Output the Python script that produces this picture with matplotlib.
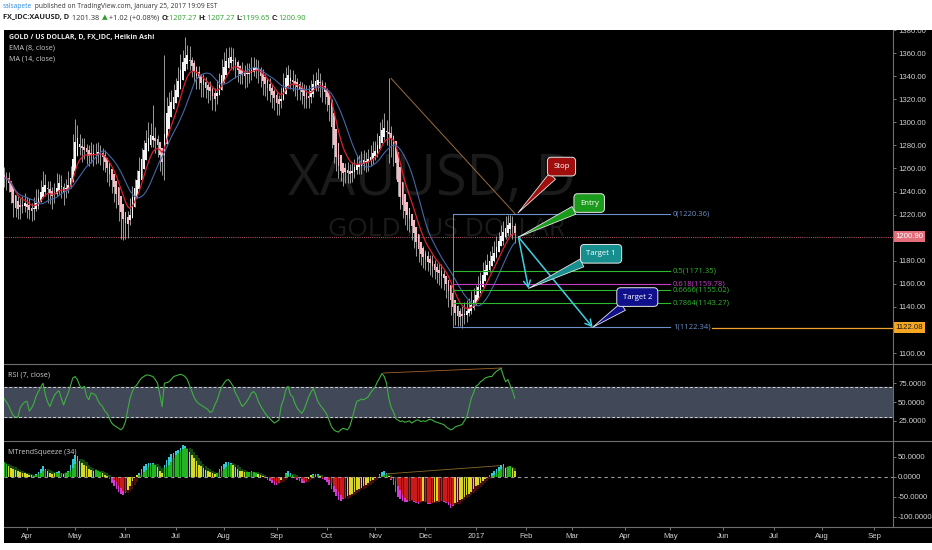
import numpy as np
import pandas as pd
import matplotlib
matplotlib.use('Agg')
import matplotlib.pyplot as plt
from matplotlib.patches import Rectangle
from matplotlib.lines import Line2D
from matplotlib.transforms import blended_transform_factory
from matplotlib import font_manager

W, H = 932, 550

# ---- data (daily Heikin Ashi, 18 Mar 2016 .. 25 Jan 2017) ----
start_day = '2016-03-18'
ha_open0 = 1254
ha_close = [
    1252, 1250, 1247, 1240, 1230, 1226, 1225, 1227, 1228, 1230,
    1227, 1224, 1223, 1226, 1230, 1234, 1240, 1244, 1246, 1242, 1238, 1236, 1238, 1243, 1247, 1244, 1240, 1242, 1246, 1252, 1268,
    1283, 1286, 1281, 1278, 1276, 1274, 1271, 1272, 1273, 1272, 1274, 1273, 1270, 1266, 1260, 1255, 1250, 1244, 1238, 1228, 1222, 1216,
    1213, 1212, 1220, 1235, 1243, 1250, 1258, 1268, 1276, 1282, 1286, 1289, 1288, 1284, 1280, 1272, 1266, 1290, 1308, 1314, 1318, 1322,
    1328, 1336, 1345, 1352, 1356, 1358, 1354, 1349, 1344, 1340, 1338, 1334, 1332, 1330, 1328, 1327, 1323, 1320, 1325, 1332, 1341,
    1348, 1353, 1356, 1357, 1354, 1350, 1345, 1342, 1341, 1340, 1342, 1343, 1345, 1347, 1348, 1345, 1340, 1336, 1333, 1330, 1327, 1324, 1321,
    1317, 1316, 1320, 1330, 1338, 1341, 1338, 1335, 1333, 1331, 1328, 1326, 1323, 1320, 1321, 1327, 1333, 1336, 1337, 1334, 1329, 1326,
    1322, 1315, 1296, 1280, 1270, 1262, 1258, 1256, 1257, 1256, 1255, 1258, 1261, 1263, 1264, 1265, 1267, 1266, 1268, 1270, 1273,
    1275, 1280, 1288, 1293, 1295, 1292, 1290, 1286, 1280, 1265, 1248, 1235, 1228, 1223, 1220, 1216, 1210, 1204, 1196, 1190, 1186, 1183,
    1181, 1179, 1178, 1175, 1172, 1170, 1169, 1167, 1165, 1160, 1154, 1146, 1140, 1135, 1132, 1131, 1132, 1133, 1136, 1139, 1142, 1146,
    1150, 1157, 1162, 1168, 1172, 1176, 1180, 1184, 1187, 1192, 1197, 1201, 1205, 1208, 1211, 1213, 1209, 1204,
]
# wick length above / below the HA close
up = [
    9, 7, 10, 8, 6, 9, 11, 7, 8, 9,
    8, 10, 7, 9, 12, 8, 10, 14, 9, 7, 11, 8, 9, 13, 8, 10, 7, 9, 12, 10, 22,
    20, 12, 9, 8, 10, 7, 9, 11, 8, 10, 9, 7, 8, 10, 9, 8, 7, 9, 10, 8, 9, 11,
    9, 11, 14, 10, 8, 9, 12, 10, 9, 11, 14, 10, 27, 12, 9, 10, 11, 68, 14, 12, 10, 11,
    10, 12, 14, 11, 18, 9, 12, 8, 10, 9, 11, 8, 10, 9, 7, 9, 8, 10, 12, 11, 14,
    13, 11, 9, 8, 10, 7, 9, 8, 11, 10, 9, 8, 12, 10, 7, 9, 8, 10, 9, 8, 11, 9, 8,
    9, 8, 11, 13, 10, 9, 8, 10, 9, 7, 8, 9, 10, 12, 11, 10, 9, 8, 10, 9, 8, 9,
    8, 9, 10, 9, 8, 10, 7, 9, 8, 10, 9, 8, 7, 9, 8, 10, 9, 8, 9, 10, 11,
    9, 11, 12, 10, 13, 10, 48, 11, 9, 12, 8, 10, 9, 8, 10, 9, 8, 9, 10, 8, 9, 10,
    8, 9, 7, 10, 9, 8, 9, 10, 8, 7, 9, 8, 7, 9, 10, 8, 9, 11, 10, 9, 12, 10,
    9, 10, 8, 11, 9, 10, 8, 9, 10, 9, 8, 10, 9, 11, 9, 7, 10, 9,
]
dn = [
    8, 9, 7, 10, 12, 8, 9, 11, 7, 8,
    10, 8, 9, 11, 7, 9, 8, 6, 10, 12, 9, 11, 8, 7, 9, 10, 12, 8, 7, 9, 10,
    8, 10, 9, 12, 8, 10, 9, 7, 11, 8, 9, 10, 11, 9, 12, 10, 11, 13, 12, 14, 23, 18,
    14, 12, 9, 8, 10, 7, 9, 8, 10, 9, 8, 10, 9, 11, 10, 14, 12, 40, 20, 9, 10, 8,
    9, 8, 10, 7, 11, 12, 9, 10, 8, 11, 9, 12, 10, 9, 11, 8, 12, 10, 9, 8, 9,
    9, 10, 8, 11, 9, 12, 10, 9, 8, 10, 11, 9, 8, 7, 10, 11, 9, 12, 10, 11, 9, 12, 10,
    11, 10, 8, 9, 10, 11, 9, 8, 10, 12, 9, 10, 11, 8, 9, 10, 11, 9, 10, 12, 11, 10,
    12, 14, 18, 15, 12, 10, 9, 11, 10, 9, 8, 10, 9, 8, 9, 10, 8, 9, 10, 8, 9,
    8, 10, 9, 11, 10, 12, 25, 16, 18, 14, 12, 10, 11, 12, 13, 11, 12, 13, 12, 11, 10, 9,
    9, 8, 10, 9, 8, 9, 10, 11, 10, 12, 14, 13, 12, 11, 9, 8, 10, 8, 9, 7, 8, 9,
    8, 9, 10, 8, 9, 7, 10, 9, 8, 10, 9, 8, 11, 9, 10, 12, 10, 9,
]
rsi = [
    55, 50, 45, 38, 32, 30, 30, 42, 47, 50,
    51, 38, 42, 48, 58, 64, 70, 75, 60, 50, 44, 52, 59, 63, 65, 55, 46, 55, 62, 72, 82,
    84, 80, 72, 68, 71, 58, 53, 62, 61, 59, 52, 47, 44, 38, 35, 28, 22, 19, 17, 15, 13, 16,
    24, 40, 55, 64, 70, 73, 78, 82, 84, 86, 86, 85, 84, 80, 75, 60, 44, 75, 76, 77, 80, 84,
    85, 86, 87, 86, 84, 80, 72, 64, 56, 51, 48, 46, 44, 42, 40, 36, 38, 46, 52, 62, 70,
    75, 79, 80, 76, 71, 62, 57, 50, 44, 47, 51, 56, 62, 64, 60, 51, 45, 40, 35, 31, 28, 25, 22,
    24, 26, 45, 53, 66, 71, 60, 57, 48, 42, 38, 35, 40, 48, 57, 63, 68, 60, 51, 46, 42, 38,
    33, 25, 17, 13, 11, 10, 13, 15, 14, 13, 18, 28, 40, 51, 52, 54, 53, 55, 57, 62, 66,
    70, 77, 82, 88, 84, 75, 55, 43, 37, 28, 26, 24, 25, 23, 24, 25, 22, 24, 26, 26, 24, 25,
    24, 26, 27, 26, 24, 23, 22, 21, 20, 17, 15, 13, 14, 17, 18, 19, 20, 25, 30, 42, 55, 62,
    71, 73, 77, 79, 82, 83, 84, 84, 88, 91, 93, 95, 85, 77, 80, 72, 65, 55,
]
squeeze = [
    36, 32, 27, 22, 19, 16, 14, 12, 10, 8,
    7, 5, 3, 2, 6, 12, 20, 27, 20, 13, 9, 7, 8, 12, 14, 10, 7, 10, 14, 30, 45,
    55, 52, 40, 34, 30, 26, 20, 16, 15, 16, 14, 12, 8, 5, 2, -6, -15, -22, -30, -37, -43, -46,
    -40, -32, -22, -11, -3, 4, 10, 18, 26, 31, 34, 35, 33, 30, 24, 14, 10, 30, 42, 50, 56, 60,
    63, 66, 72, 79, 76, 70, 62, 54, 47, 38, 30, 26, 21, 17, 14, 12, 9, 7, 10, 18, 26,
    32, 36, 37, 33, 29, 24, 18, 15, 13, 12, 11, 12, 13, 12, 10, 7, 4, 1, -3, -8, -12, -17, -20,
    -21, -16, -8, -2, 8, 14, 9, 4, -4, -8, -12, -15, -16, -14, -5, 4, 6, 7, 6, 1, -5, -9,
    -14, -20, -30, -38, -48, -58, -60, -56, -52, -48, -45, -42, -38, -34, -30, -27, -24, -20, -16, -12, -8,
    -4, 0, 6, 12, 13, 8, 1, -8, -20, -38, -50, -56, -60, -62, -64, -61, -58, -62, -66, -69, -64, -60,
    -63, -67, -69, -65, -62, -60, -62, -60, -63, -66, -70, -78, -72, -65, -62, -58, -55, -50, -46, -42, -37, -30,
    -24, -20, -15, -11, -6, -1, 4, 9, 13, 18, 24, 30, 32, 22, 24, 27, 22, 15,
]

fib_levels = [0, 0.5, 0.618, 0.6666, 0.7864, 1]
fib_prices = [1220.36, 1171.35, 1159.78, 1155.02, 1143.27, 1122.34]
fib_colors = ['#6d8fca', '#2db82d', '#c83cc8', '#2db82d', '#2db82d', '#6d8fca']
last_price = 1200.90
ray_price = 1122.08

# drawings (bar index, price)
trend_line = [(169, 1338), (223, 1221)]
rsi_div = [(165.5, 88.7), (217.4, 95.4)]
sq_div = [(167, 7), (216.5, 27.5)]
entry_pt = (224.6, 1200.5)
targets = [(229, 1156), (257, 1122.3)]
callouts = [('Stop', (243.4, 1261.6), (224.4, 1221.4), '#a00d0d'),
            ('Entry', (255.5, 1230.0), (224.6, 1200.5), '#1b9b1b'),
            ('Target 1', (260.7, 1186.0), (229, 1156), '#178f8f'),
            ('Target 2', (276.5, 1148.5), (257, 1122.3), '#10108c')]

plt.rcParams['font.family'] = ['Open Sans', 'DejaVu Sans']
try:
    font_manager.findfont('Liberation Sans Narrow', fallback_to_default=False)
    NARROW = 'Liberation Sans Narrow'
except ValueError:
    NARROW = 'Liberation Sans'

fig = plt.figure(figsize=(W / 100, H / 100), dpi=100, facecolor='white')
renderer = fig.canvas.get_renderer()


def fx(x):
    return x / W


def fy(y):
    return 1 - y / H


fig.add_artist(Rectangle((fx(4), fy(543)), fx(932) - fx(4), fy(30) - fy(543),
                         transform=fig.transFigure, fc='black', ec='none', zorder=-10))

L, R = 4, 893
x0 = (L - 4.1) / 2.29
x1 = (R - 4.1) / 2.29


def pane(top, bottom):
    a = fig.add_axes([fx(L), fy(bottom), (R - L) / W, (bottom - top) / H], facecolor='black')
    a.set_xlim(x0, x1)
    for s in a.spines.values():
        s.set_visible(False)
    a.yaxis.tick_right()
    a.tick_params(axis='y', colors='#8a8a8a', labelcolor='#cfcfcf', labelsize=5.6,
                  length=2.5, width=0.6, pad=1.2)
    a.tick_params(axis='x', bottom=False, labelbottom=False)
    return a


ax_p = pane(30, 364)
ax_r = pane(364, 441)
ax_s = pane(441, 527)

n = len(ha_close)
idx = np.arange(n)
c = np.array(ha_close, float)
o = np.empty(n)
o[0] = ha_open0
for k in range(1, n):
    o[k] = (o[k - 1] + c[k - 1]) / 2
hi = np.maximum(c + np.array(up), np.maximum(o, c))
lo = np.minimum(c - np.array(dn), np.minimum(o, c))
body = c - o
body = np.where(np.abs(body) < 0.8, np.where(body >= 0, 0.8, -0.8), body)

# ---- price pane ----
ax_p.set_ylim(1380 - 334 / 1.1536, 1380)
ax_p.text(fx(432), fy(180), 'XAUUSD, D', transform=fig.transFigure, ha='center', va='center',
          fontsize=40, color='#1b1b1b', zorder=0.5)
ax_p.text(fx(447), fy(230), 'GOLD / US DOLLAR', transform=fig.transFigure, ha='center', va='center',
          fontsize=19, color='#1b1b1b', zorder=0.5)

ax_p.vlines(idx, lo, hi, color='#b4b4b4', lw=0.6, zorder=2)
ax_p.bar(idx, body, bottom=o, width=0.72, color=np.where(c >= o, '#f4f4f4', '#f3bcc4'),
         linewidth=0, zorder=3)
ema = pd.Series(c).ewm(span=8, adjust=False).mean()
ma = pd.Series(c).rolling(14, min_periods=1).mean()
ax_p.plot(idx, ema, color='#d8202c', lw=0.9, zorder=4)
ax_p.plot(idx, ma, color='#4466a8', lw=0.8, zorder=4)

ax_p.axhline(last_price, color='#c0606a', lw=0.7, ls=(0, (1, 1.2)), zorder=1)
ax_p.plot(*zip(*trend_line), color='#9c6b3c', lw=0.7, zorder=5)

fx0, fx1 = 196, 290.8
ax_p.plot([fx0, fx0], [fib_prices[-1], fib_prices[0]], color='#6d8fca', lw=0.7, zorder=5)
for lvl, p, col in zip(fib_levels, fib_prices, fib_colors):
    ax_p.plot([fx0, fx1], [p, p], color=col, lw=0.8, zorder=5)
    ax_p.text(292, p, f'{lvl:g}({p:.2f})', color=col, fontsize=5.5, va='center', ha='left', zorder=6)
ax_p.plot([309.1, x1], [ray_price, ray_price], color='#f0a030', lw=0.9, zorder=5)

for t in targets:
    ax_p.annotate('', xy=t, xytext=entry_pt,
                  arrowprops=dict(arrowstyle='->,head_length=0.45,head_width=0.25', color='#3fd0e3',
                                  lw=1.1, shrinkA=0, shrinkB=0), zorder=7)
for s, xyt, xy, col in callouts:
    ax_p.annotate(s, xy=xy, xytext=xyt, ha='center', va='center', color='white', fontsize=5.6,
                  bbox=dict(boxstyle='round,pad=0.75,rounding_size=0.5', fc=col, ec='#e6e6e6', lw=0.7),
                  arrowprops=dict(arrowstyle='wedge,tail_width=1.1,shrink_factor=0.5', fc=col,
                                  ec='#e6e6e6', lw=0.6, shrinkA=0, shrinkB=0), zorder=8)

# 1200 and 1120 sit under the price boxes, as on the reference
pticks = [p for p in range(1100, 1381, 20) if p not in (1120, 1200)]
ax_p.set_yticks(pticks)
ax_p.set_yticklabels([f'{v:.2f}' for v in pticks], fontfamily=NARROW)
blend = blended_transform_factory(ax_p.transAxes, ax_p.transData)
ax_p.text(1.0023, last_price, f'{last_price:.2f}', transform=blend, ha='left', va='center',
          fontsize=5.6, fontfamily=NARROW, color='white', clip_on=False, zorder=10,
          bbox=dict(boxstyle='square,pad=0.25', fc='#e46f7a', ec='none'))
ax_p.text(1.0023, ray_price, f'{ray_price:.2f}', transform=blend, ha='left', va='center',
          fontsize=5.6, fontfamily=NARROW, color='#1a1a1a', clip_on=False, zorder=10,
          bbox=dict(boxstyle='square,pad=0.25', fc='#f5a623', ec='none'))

# ---- RSI pane ----
ax_r.set_ylim(-1.9, 100.7)
ax_r.axhspan(30, 70, color='#414959', zorder=0)
for lvl in (30, 70):
    ax_r.axhline(lvl, color='#d0d0d0', lw=0.7, ls=(0, (3, 2)), zorder=1)
ax_r.plot(idx, rsi, color='#3fb03f', lw=0.8, zorder=3)
ax_r.plot(*zip(*rsi_div), color='#a0602a', lw=0.6, zorder=2)
ax_r.set_yticks([25, 50, 75])
ax_r.set_yticklabels([f'{v:.4f}' for v in (25, 50, 75)], fontfamily=NARROW)

# ---- MTrendSqueeze pane ----
ax_s.set_ylim(-125.7, 89.2)
v = np.array(squeeze, float)
sm = pd.Series(v).rolling(5, min_periods=1).mean().values
ax_s.bar(idx, sm, width=0.95, color=np.where(sm >= 0, '#114611', '#4a0c0c'), linewidth=0, zorder=1)
fading = np.abs(v) < np.abs(sm) - 3
core = np.sign(v) * np.minimum(np.abs(v), np.abs(sm))
core = np.where(fading, v, core)
core_col = np.where(fading, '#d8d82a', np.where(v >= 0, '#22b422', '#cc1a1a'))
ax_s.bar(idx, core, width=0.7, color=core_col, linewidth=0, zorder=2)
tip = (~fading) & (np.abs(v) > np.abs(core))
ax_s.bar(idx[tip], (v - core)[tip], bottom=core[tip], width=0.7,
         color=np.where(v[tip] >= 0, '#33c6d6', '#d23ad2'), linewidth=0, zorder=2)
ax_s.axhline(0, color='#9a9a9a', lw=0.8, ls=(0, (3, 3)), zorder=3)
ax_s.plot(*zip(*sq_div), color='#8a6a2a', lw=0.6, zorder=3)
ax_s.set_yticks([50, 0, -50, -100])
ax_s.set_yticklabels([f'{t:.4f}' for t in (50, 0, -50, -100)], fontfamily=NARROW)

# ---- time axis ----
days = pd.bdate_range(start_day, '2017-09-29')
pos = pd.Series(np.arange(len(days)), index=days)
firsts = pos.groupby([days.year, days.month]).first()
tick_pos, tick_lab = [], []
for (yr, mo), i in firsts.items():
    d = days[i]
    if d.day > 7:
        continue
    tick_pos.append(i)
    tick_lab.append(str(yr) if mo == 1 else d.strftime('%b'))
ax_s.set_xticks(tick_pos)
ax_s.set_xticklabels(tick_lab, fontfamily=NARROW)
ax_s.tick_params(axis='x', bottom=True, labelbottom=True, colors='#8a8a8a', labelcolor='#cfcfcf',
                 labelsize=5.6, length=2.5, width=0.6, pad=1.5)

# separators
for y in (364, 441, 527):
    fig.add_artist(Line2D([fx(4), fx(932)], [fy(y), fy(y)], color='#6e6e6e', lw=0.8))
fig.add_artist(Line2D([fx(893), fx(893)], [fy(30), fy(527)], color='#6e6e6e', lw=0.8))

# header strip
fig.add_artist(Rectangle((0, fy(30)), 1, 30 / H, transform=fig.transFigure, fc='white', ec='none', zorder=20))


def seg_line(x, y, parts, width, base=6.0):
    texts = [fig.text(0, 0, s, color=col, fontsize=base, fontweight=wt, va='center', ha='left', zorder=21)
             for s, col, wt in parts]
    widths = [t.get_window_extent(renderer).width for t in texts]
    scale = width / sum(widths)
    cur = x
    for t, w in zip(texts, widths):
        t.set_fontsize(base * scale)
        t.set_position((fx(cur), fy(y)))
        cur += w * scale


seg_line(3, 7, [('salsapete', '#2a8adf', 'normal'),
                (' published on TradingView.com, January 25, 2017 19:09 EST', '#333333', 'normal')], 215)
gr = '#2aa02a'
seg_line(3, 18, [('FX_IDC:XAUUSD, D', '#222222', 'bold'), (' 1201.38 ', '#333333', 'normal'),
                 ('▲', gr, 'normal'), (' +1.02 (+0.08%) ', '#333333', 'normal'),
                 ('O:', '#222222', 'bold'), ('1207.27 ', gr, 'normal'),
                 ('H:', '#222222', 'bold'), ('1207.27 ', gr, 'normal'),
                 ('L:', '#222222', 'bold'), ('1199.65 ', gr, 'normal'),
                 ('C:', '#222222', 'bold'), ('1200.90', gr, 'normal')], 303)

seg_line(9, 37, [('GOLD / US DOLLAR, D, FX_IDC, Heikin Ashi', '#ececec', 'bold')], 145)
seg_line(9, 48, [('EMA (8, close)', '#cfcfcf', 'normal')], 46)
seg_line(9, 59, [('MA (14, close)', '#cfcfcf', 'normal')], 46)
seg_line(8, 375, [('RSI (7, close)', '#cfcfcf', 'normal')], 42)
seg_line(8, 452, [('MTrendSqueeze (34)', '#cfcfcf', 'normal')], 69)

fig.savefig('out.png', dpi=100, facecolor='white')
